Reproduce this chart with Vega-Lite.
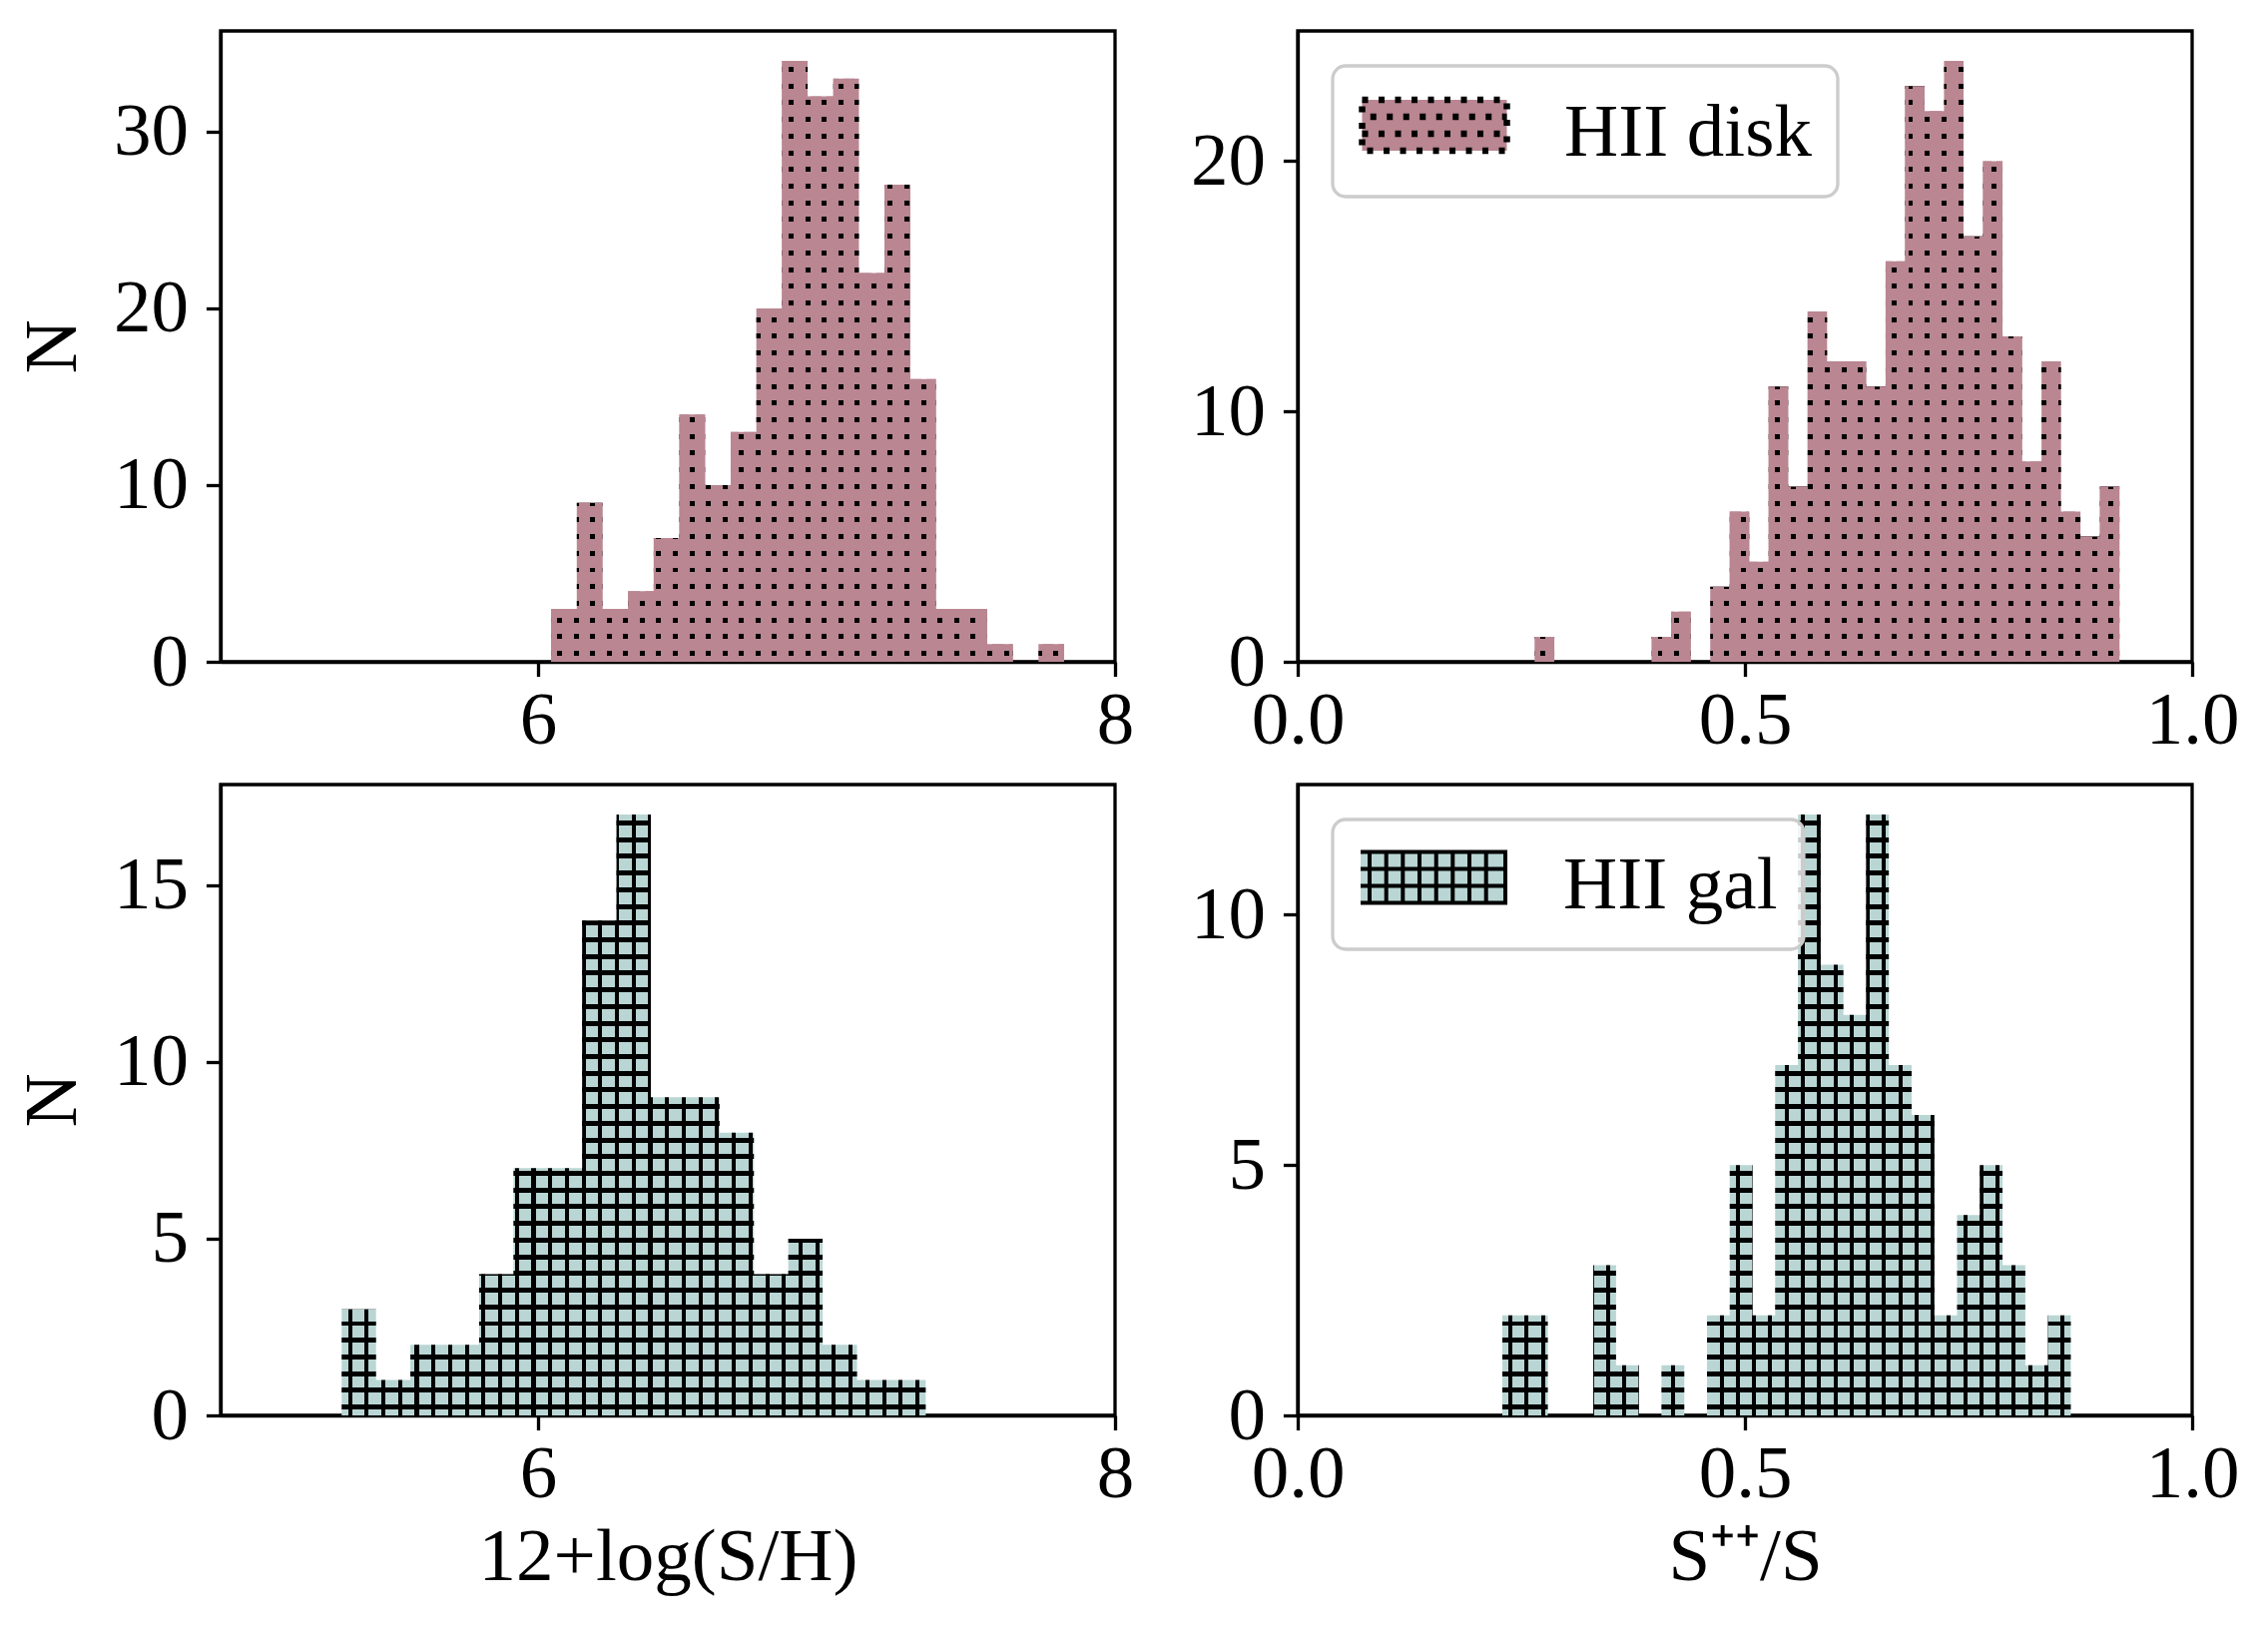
{
"$schema": "https://vega.github.io/schema/vega-lite/v6.json",
"background": "white",
"padding": {"left": 13, "top": 29, "right": 30, "bottom": 30},
"bounds": "flush",
"columns": 2,
"spacing": {"row": 123, "column": 183},
"resolve": {"scale": {"fill": "independent"}, "legend": {"fill": "independent"}},
"datasets": {
"diskSH": [
{"lo":6.0456,"hi":6.1345,"n":3},{"lo":6.1345,"hi":6.2234,"n":9},{"lo":6.2234,"hi":6.3123,"n":3},{"lo":6.3123,"hi":6.4012,"n":4},{"lo":6.4012,"hi":6.4901,"n":7},{"lo":6.4901,"hi":6.579,"n":14},{"lo":6.579,"hi":6.6679,"n":10},{"lo":6.6679,"hi":6.7568,"n":13},{"lo":6.7568,"hi":6.8457,"n":20},{"lo":6.8457,"hi":6.9346,"n":34},{"lo":6.9346,"hi":7.0235,"n":32},{"lo":7.0235,"hi":7.1124,"n":33},{"lo":7.1124,"hi":7.2013,"n":22},{"lo":7.2013,"hi":7.2902,"n":27},{"lo":7.2902,"hi":7.3791,"n":16},{"lo":7.3791,"hi":7.468,"n":3},{"lo":7.468,"hi":7.5569,"n":3},{"lo":7.5569,"hi":7.6458,"n":1},{"lo":7.6458,"hi":7.7347,"n":0},{"lo":7.7347,"hi":7.8236,"n":1}
],
"diskFr": [
{"lo":0.2651,"hi":0.2869,"n":1},{"lo":0.2869,"hi":0.3087,"n":0},{"lo":0.3087,"hi":0.3305,"n":0},{"lo":0.3305,"hi":0.3522,"n":0},{"lo":0.3522,"hi":0.374,"n":0},{"lo":0.374,"hi":0.3958,"n":0},{"lo":0.3958,"hi":0.4176,"n":1},{"lo":0.4176,"hi":0.4394,"n":2},{"lo":0.4394,"hi":0.4612,"n":0},{"lo":0.4612,"hi":0.483,"n":3},{"lo":0.483,"hi":0.5048,"n":6},{"lo":0.5048,"hi":0.5265,"n":4},{"lo":0.5265,"hi":0.5483,"n":11},{"lo":0.5483,"hi":0.5701,"n":7},{"lo":0.5701,"hi":0.5919,"n":14},{"lo":0.5919,"hi":0.6137,"n":12},{"lo":0.6137,"hi":0.6355,"n":12},{"lo":0.6355,"hi":0.6573,"n":11},{"lo":0.6573,"hi":0.6791,"n":16},{"lo":0.6791,"hi":0.7008,"n":23},{"lo":0.7008,"hi":0.7226,"n":22},{"lo":0.7226,"hi":0.7444,"n":24},{"lo":0.7444,"hi":0.7662,"n":17},{"lo":0.7662,"hi":0.788,"n":20},{"lo":0.788,"hi":0.8098,"n":13},{"lo":0.8098,"hi":0.8316,"n":8},{"lo":0.8316,"hi":0.8534,"n":12},{"lo":0.8534,"hi":0.8751,"n":6},{"lo":0.8751,"hi":0.8969,"n":5},{"lo":0.8969,"hi":0.9187,"n":7}
],
"galSH": [
{"lo":5.3196,"hi":5.4387,"n":3},{"lo":5.4387,"hi":5.5577,"n":1},{"lo":5.5577,"hi":5.6768,"n":2},{"lo":5.6768,"hi":5.7959,"n":2},{"lo":5.7959,"hi":5.915,"n":4},{"lo":5.915,"hi":6.034,"n":7},{"lo":6.034,"hi":6.1531,"n":7},{"lo":6.1531,"hi":6.2722,"n":14},{"lo":6.2722,"hi":6.3912,"n":17},{"lo":6.3912,"hi":6.5103,"n":9},{"lo":6.5103,"hi":6.6294,"n":9},{"lo":6.6294,"hi":6.7484,"n":8},{"lo":6.7484,"hi":6.8675,"n":4},{"lo":6.8675,"hi":6.9866,"n":5},{"lo":6.9866,"hi":7.1057,"n":2},{"lo":7.1057,"hi":7.2247,"n":1},{"lo":7.2247,"hi":7.3438,"n":1}
],
"galFr": [
{"lo":0.2288,"hi":0.2542,"n":2},{"lo":0.2542,"hi":0.2796,"n":2},{"lo":0.2796,"hi":0.3051,"n":0},{"lo":0.3051,"hi":0.3305,"n":0},{"lo":0.3305,"hi":0.3559,"n":3},{"lo":0.3559,"hi":0.3813,"n":1},{"lo":0.3813,"hi":0.4067,"n":0},{"lo":0.4067,"hi":0.4322,"n":1},{"lo":0.4322,"hi":0.4576,"n":0},{"lo":0.4576,"hi":0.483,"n":2},{"lo":0.483,"hi":0.5084,"n":5},{"lo":0.5084,"hi":0.5338,"n":2},{"lo":0.5338,"hi":0.5593,"n":7},{"lo":0.5593,"hi":0.5847,"n":12},{"lo":0.5847,"hi":0.6101,"n":9},{"lo":0.6101,"hi":0.6355,"n":8},{"lo":0.6355,"hi":0.6609,"n":12},{"lo":0.6609,"hi":0.6864,"n":7},{"lo":0.6864,"hi":0.7118,"n":6},{"lo":0.7118,"hi":0.7372,"n":2},{"lo":0.7372,"hi":0.7626,"n":4},{"lo":0.7626,"hi":0.788,"n":5},{"lo":0.788,"hi":0.8135,"n":3},{"lo":0.8135,"hi":0.8389,"n":1},{"lo":0.8389,"hi":0.8643,"n":2}
]
},
"config": {
"font": "Liberation Serif",
"view": {"stroke": "black", "strokeWidth": 3.3},
"axis": {"grid": false, "zindex": 1, "domainColor": "black", "domainWidth": 3.3, "tickColor": "black", "tickWidth": 3.3, "tickSize": 14.6, "labelFont": "Liberation Serif", "labelFontSize": 75, "labelColor": "black", "labelFlush": false, "labelOverlap": false, "labelBound": false, "titleFont": "Liberation Serif", "titleFontSize": 75, "titleFontWeight": "normal", "titleColor": "black"},
"axisX": {"labelPadding": 8, "titlePadding": 9},
"axisY": {"labelPadding": 18, "titlePadding": 22},
"legend": {"labelFont": "Liberation Serif", "labelFontSize": 75, "labelColor": "black", "labelOffset": 124, "padding": 26, "fillColor": "rgba(255,255,255,0.8)", "strokeColor": "#cccccc", "strokeWidth": 3.3, "cornerRadius": 13, "labelLimit": 1000, "orient": "top-left", "offset": 35}
},
"concat": [
{
"width": 896, "height": 632,
"data": {"name": "diskSH"},
"transform": [{"fold": ["lo", "hi"], "as": ["edge", "x"]}],
"encoding": {
"x": {"field": "x", "type": "quantitative", "scale": {"domain": [4.9, 8], "nice": false, "zero": false}, "axis": {"values": [6, 8], "title": null}},
"y": {"field": "n", "type": "quantitative", "stack": null, "scale": {"domain": [0, 35.7], "nice": false}, "axis": {"values": [0, 10, 20, 30], "title": "N"}},
"order": [{"field": "x", "type": "quantitative"}, {"field": "edge", "type": "nominal"}]
},
"layer": [
{"mark": {"type": "area", "fill": "#b98692", "opacity": 1}},
{"mark": {"type": "area", "opacity": 1, "fill": {"gradient": "linear", "x1": 0, "y1": 0, "x2": 0, "y2": 1, "stops": [
{"offset":0.0097,"color":"transparent"},{"offset":0.0097,"color":"#000"},{"offset":0.0180,"color":"#000"},{"offset":0.0180,"color":"transparent"},
{"offset":0.0375,"color":"transparent"},{"offset":0.0375,"color":"#000"},{"offset":0.0458,"color":"#000"},{"offset":0.0458,"color":"transparent"},
{"offset":0.0653,"color":"transparent"},{"offset":0.0653,"color":"#000"},{"offset":0.0736,"color":"#000"},{"offset":0.0736,"color":"transparent"},
{"offset":0.0930,"color":"transparent"},{"offset":0.0930,"color":"#000"},{"offset":0.1013,"color":"#000"},{"offset":0.1013,"color":"transparent"},
{"offset":0.1208,"color":"transparent"},{"offset":0.1208,"color":"#000"},{"offset":0.1291,"color":"#000"},{"offset":0.1291,"color":"transparent"},
{"offset":0.1486,"color":"transparent"},{"offset":0.1486,"color":"#000"},{"offset":0.1569,"color":"#000"},{"offset":0.1569,"color":"transparent"},
{"offset":0.1764,"color":"transparent"},{"offset":0.1764,"color":"#000"},{"offset":0.1847,"color":"#000"},{"offset":0.1847,"color":"transparent"},
{"offset":0.2041,"color":"transparent"},{"offset":0.2041,"color":"#000"},{"offset":0.2124,"color":"#000"},{"offset":0.2124,"color":"transparent"},
{"offset":0.2319,"color":"transparent"},{"offset":0.2319,"color":"#000"},{"offset":0.2402,"color":"#000"},{"offset":0.2402,"color":"transparent"},
{"offset":0.2597,"color":"transparent"},{"offset":0.2597,"color":"#000"},{"offset":0.2680,"color":"#000"},{"offset":0.2680,"color":"transparent"},
{"offset":0.2875,"color":"transparent"},{"offset":0.2875,"color":"#000"},{"offset":0.2958,"color":"#000"},{"offset":0.2958,"color":"transparent"},
{"offset":0.3153,"color":"transparent"},{"offset":0.3153,"color":"#000"},{"offset":0.3236,"color":"#000"},{"offset":0.3236,"color":"transparent"},
{"offset":0.3430,"color":"transparent"},{"offset":0.3430,"color":"#000"},{"offset":0.3513,"color":"#000"},{"offset":0.3513,"color":"transparent"},
{"offset":0.3708,"color":"transparent"},{"offset":0.3708,"color":"#000"},{"offset":0.3791,"color":"#000"},{"offset":0.3791,"color":"transparent"},
{"offset":0.3986,"color":"transparent"},{"offset":0.3986,"color":"#000"},{"offset":0.4069,"color":"#000"},{"offset":0.4069,"color":"transparent"},
{"offset":0.4264,"color":"transparent"},{"offset":0.4264,"color":"#000"},{"offset":0.4347,"color":"#000"},{"offset":0.4347,"color":"transparent"},
{"offset":0.4541,"color":"transparent"},{"offset":0.4541,"color":"#000"},{"offset":0.4624,"color":"#000"},{"offset":0.4624,"color":"transparent"},
{"offset":0.4819,"color":"transparent"},{"offset":0.4819,"color":"#000"},{"offset":0.4902,"color":"#000"},{"offset":0.4902,"color":"transparent"},
{"offset":0.5097,"color":"transparent"},{"offset":0.5097,"color":"#000"},{"offset":0.5180,"color":"#000"},{"offset":0.5180,"color":"transparent"},
{"offset":0.5375,"color":"transparent"},{"offset":0.5375,"color":"#000"},{"offset":0.5458,"color":"#000"},{"offset":0.5458,"color":"transparent"},
{"offset":0.5653,"color":"transparent"},{"offset":0.5653,"color":"#000"},{"offset":0.5736,"color":"#000"},{"offset":0.5736,"color":"transparent"},
{"offset":0.5930,"color":"transparent"},{"offset":0.5930,"color":"#000"},{"offset":0.6013,"color":"#000"},{"offset":0.6013,"color":"transparent"},
{"offset":0.6208,"color":"transparent"},{"offset":0.6208,"color":"#000"},{"offset":0.6291,"color":"#000"},{"offset":0.6291,"color":"transparent"},
{"offset":0.6486,"color":"transparent"},{"offset":0.6486,"color":"#000"},{"offset":0.6569,"color":"#000"},{"offset":0.6569,"color":"transparent"},
{"offset":0.6764,"color":"transparent"},{"offset":0.6764,"color":"#000"},{"offset":0.6847,"color":"#000"},{"offset":0.6847,"color":"transparent"},
{"offset":0.7041,"color":"transparent"},{"offset":0.7041,"color":"#000"},{"offset":0.7124,"color":"#000"},{"offset":0.7124,"color":"transparent"},
{"offset":0.7319,"color":"transparent"},{"offset":0.7319,"color":"#000"},{"offset":0.7402,"color":"#000"},{"offset":0.7402,"color":"transparent"},
{"offset":0.7597,"color":"transparent"},{"offset":0.7597,"color":"#000"},{"offset":0.7680,"color":"#000"},{"offset":0.7680,"color":"transparent"},
{"offset":0.7875,"color":"transparent"},{"offset":0.7875,"color":"#000"},{"offset":0.7958,"color":"#000"},{"offset":0.7958,"color":"transparent"},
{"offset":0.8153,"color":"transparent"},{"offset":0.8153,"color":"#000"},{"offset":0.8236,"color":"#000"},{"offset":0.8236,"color":"transparent"},
{"offset":0.8430,"color":"transparent"},{"offset":0.8430,"color":"#000"},{"offset":0.8513,"color":"#000"},{"offset":0.8513,"color":"transparent"},
{"offset":0.8708,"color":"transparent"},{"offset":0.8708,"color":"#000"},{"offset":0.8791,"color":"#000"},{"offset":0.8791,"color":"transparent"},
{"offset":0.8986,"color":"transparent"},{"offset":0.8986,"color":"#000"},{"offset":0.9069,"color":"#000"},{"offset":0.9069,"color":"transparent"},
{"offset":0.9264,"color":"transparent"},{"offset":0.9264,"color":"#000"},{"offset":0.9347,"color":"#000"},{"offset":0.9347,"color":"transparent"},
{"offset":0.9541,"color":"transparent"},{"offset":0.9541,"color":"#000"},{"offset":0.9624,"color":"#000"},{"offset":0.9624,"color":"transparent"},
{"offset":0.9819,"color":"transparent"},{"offset":0.9819,"color":"#000"},{"offset":0.9902,"color":"#000"},{"offset":0.9902,"color":"transparent"}
]}}},
{"mark": {"type": "area", "opacity": 1, "fill": {"gradient": "linear", "x1": 0, "y1": 0, "x2": 1, "y2": 0, "stops": [
{"offset":0.0113,"color":"#b98692"},{"offset":0.0113,"color":"transparent"},{"offset":0.0210,"color":"transparent"},{"offset":0.0210,"color":"#b98692"},
{"offset":0.0436,"color":"#b98692"},{"offset":0.0436,"color":"transparent"},{"offset":0.0533,"color":"transparent"},{"offset":0.0533,"color":"#b98692"},
{"offset":0.0758,"color":"#b98692"},{"offset":0.0758,"color":"transparent"},{"offset":0.0855,"color":"transparent"},{"offset":0.0855,"color":"#b98692"},
{"offset":0.1081,"color":"#b98692"},{"offset":0.1081,"color":"transparent"},{"offset":0.1178,"color":"transparent"},{"offset":0.1178,"color":"#b98692"},
{"offset":0.1403,"color":"#b98692"},{"offset":0.1403,"color":"transparent"},{"offset":0.1500,"color":"transparent"},{"offset":0.1500,"color":"#b98692"},
{"offset":0.1726,"color":"#b98692"},{"offset":0.1726,"color":"transparent"},{"offset":0.1823,"color":"transparent"},{"offset":0.1823,"color":"#b98692"},
{"offset":0.2049,"color":"#b98692"},{"offset":0.2049,"color":"transparent"},{"offset":0.2146,"color":"transparent"},{"offset":0.2146,"color":"#b98692"},
{"offset":0.2371,"color":"#b98692"},{"offset":0.2371,"color":"transparent"},{"offset":0.2468,"color":"transparent"},{"offset":0.2468,"color":"#b98692"},
{"offset":0.2694,"color":"#b98692"},{"offset":0.2694,"color":"transparent"},{"offset":0.2791,"color":"transparent"},{"offset":0.2791,"color":"#b98692"},
{"offset":0.3016,"color":"#b98692"},{"offset":0.3016,"color":"transparent"},{"offset":0.3113,"color":"transparent"},{"offset":0.3113,"color":"#b98692"},
{"offset":0.3339,"color":"#b98692"},{"offset":0.3339,"color":"transparent"},{"offset":0.3436,"color":"transparent"},{"offset":0.3436,"color":"#b98692"},
{"offset":0.3661,"color":"#b98692"},{"offset":0.3661,"color":"transparent"},{"offset":0.3758,"color":"transparent"},{"offset":0.3758,"color":"#b98692"},
{"offset":0.3984,"color":"#b98692"},{"offset":0.3984,"color":"transparent"},{"offset":0.4081,"color":"transparent"},{"offset":0.4081,"color":"#b98692"},
{"offset":0.4307,"color":"#b98692"},{"offset":0.4307,"color":"transparent"},{"offset":0.4404,"color":"transparent"},{"offset":0.4404,"color":"#b98692"},
{"offset":0.4629,"color":"#b98692"},{"offset":0.4629,"color":"transparent"},{"offset":0.4726,"color":"transparent"},{"offset":0.4726,"color":"#b98692"},
{"offset":0.4952,"color":"#b98692"},{"offset":0.4952,"color":"transparent"},{"offset":0.5049,"color":"transparent"},{"offset":0.5049,"color":"#b98692"},
{"offset":0.5274,"color":"#b98692"},{"offset":0.5274,"color":"transparent"},{"offset":0.5371,"color":"transparent"},{"offset":0.5371,"color":"#b98692"},
{"offset":0.5597,"color":"#b98692"},{"offset":0.5597,"color":"transparent"},{"offset":0.5694,"color":"transparent"},{"offset":0.5694,"color":"#b98692"},
{"offset":0.5920,"color":"#b98692"},{"offset":0.5920,"color":"transparent"},{"offset":0.6017,"color":"transparent"},{"offset":0.6017,"color":"#b98692"},
{"offset":0.6242,"color":"#b98692"},{"offset":0.6242,"color":"transparent"},{"offset":0.6339,"color":"transparent"},{"offset":0.6339,"color":"#b98692"},
{"offset":0.6565,"color":"#b98692"},{"offset":0.6565,"color":"transparent"},{"offset":0.6662,"color":"transparent"},{"offset":0.6662,"color":"#b98692"},
{"offset":0.6887,"color":"#b98692"},{"offset":0.6887,"color":"transparent"},{"offset":0.6984,"color":"transparent"},{"offset":0.6984,"color":"#b98692"},
{"offset":0.7210,"color":"#b98692"},{"offset":0.7210,"color":"transparent"},{"offset":0.7307,"color":"transparent"},{"offset":0.7307,"color":"#b98692"},
{"offset":0.7532,"color":"#b98692"},{"offset":0.7532,"color":"transparent"},{"offset":0.7629,"color":"transparent"},{"offset":0.7629,"color":"#b98692"},
{"offset":0.7855,"color":"#b98692"},{"offset":0.7855,"color":"transparent"},{"offset":0.7952,"color":"transparent"},{"offset":0.7952,"color":"#b98692"},
{"offset":0.8178,"color":"#b98692"},{"offset":0.8178,"color":"transparent"},{"offset":0.8275,"color":"transparent"},{"offset":0.8275,"color":"#b98692"},
{"offset":0.8500,"color":"#b98692"},{"offset":0.8500,"color":"transparent"},{"offset":0.8597,"color":"transparent"},{"offset":0.8597,"color":"#b98692"},
{"offset":0.8823,"color":"#b98692"},{"offset":0.8823,"color":"transparent"},{"offset":0.8920,"color":"transparent"},{"offset":0.8920,"color":"#b98692"},
{"offset":0.9145,"color":"#b98692"},{"offset":0.9145,"color":"transparent"},{"offset":0.9242,"color":"transparent"},{"offset":0.9242,"color":"#b98692"},
{"offset":0.9468,"color":"#b98692"},{"offset":0.9468,"color":"transparent"},{"offset":0.9565,"color":"transparent"},{"offset":0.9565,"color":"#b98692"},
{"offset":0.9790,"color":"#b98692"},{"offset":0.9790,"color":"transparent"},{"offset":0.9887,"color":"transparent"},{"offset":0.9887,"color":"#b98692"}
]}}}
]
},
{
"width": 896, "height": 632,
"data": {"name": "diskFr"},
"transform": [{"fold": ["lo", "hi"], "as": ["edge", "x"]}],
"encoding": {
"x": {"field": "x", "type": "quantitative", "scale": {"domain": [0, 1], "nice": false, "zero": false}, "axis": {"values": [0, 0.5, 1], "format": ".1f", "title": null}},
"y": {"field": "n", "type": "quantitative", "stack": null, "scale": {"domain": [0, 25.2], "nice": false}, "axis": {"values": [0, 10, 20], "title": null}},
"order": [{"field": "x", "type": "quantitative"}, {"field": "edge", "type": "nominal"}]
},
"layer": [
{"mark": {"type": "area", "opacity": 1},
 "encoding": {"fill": {"datum": "HII disk", "type": "nominal", "scale": {"range": ["#b98692"]},
  "legend": {"title": null, "symbolType": "M-1,-0.88H2.867V0.48H-1Z M-0.78,-0.427H2.867 M-1,0.027H2.867", "symbolSize": 5625,
   "symbolStrokeColor": "black", "symbolStrokeWidth": 6.5, "symbolDash": [6, 10.5], "symbolOpacity": 1}}}},
{"mark": {"type": "area", "opacity": 1, "fill": {"gradient": "linear", "x1": 0, "y1": 0, "x2": 0, "y2": 1, "stops": [
{"offset":0.0097,"color":"transparent"},{"offset":0.0097,"color":"#000"},{"offset":0.0180,"color":"#000"},{"offset":0.0180,"color":"transparent"},
{"offset":0.0375,"color":"transparent"},{"offset":0.0375,"color":"#000"},{"offset":0.0458,"color":"#000"},{"offset":0.0458,"color":"transparent"},
{"offset":0.0653,"color":"transparent"},{"offset":0.0653,"color":"#000"},{"offset":0.0736,"color":"#000"},{"offset":0.0736,"color":"transparent"},
{"offset":0.0930,"color":"transparent"},{"offset":0.0930,"color":"#000"},{"offset":0.1013,"color":"#000"},{"offset":0.1013,"color":"transparent"},
{"offset":0.1208,"color":"transparent"},{"offset":0.1208,"color":"#000"},{"offset":0.1291,"color":"#000"},{"offset":0.1291,"color":"transparent"},
{"offset":0.1486,"color":"transparent"},{"offset":0.1486,"color":"#000"},{"offset":0.1569,"color":"#000"},{"offset":0.1569,"color":"transparent"},
{"offset":0.1764,"color":"transparent"},{"offset":0.1764,"color":"#000"},{"offset":0.1847,"color":"#000"},{"offset":0.1847,"color":"transparent"},
{"offset":0.2041,"color":"transparent"},{"offset":0.2041,"color":"#000"},{"offset":0.2124,"color":"#000"},{"offset":0.2124,"color":"transparent"},
{"offset":0.2319,"color":"transparent"},{"offset":0.2319,"color":"#000"},{"offset":0.2402,"color":"#000"},{"offset":0.2402,"color":"transparent"},
{"offset":0.2597,"color":"transparent"},{"offset":0.2597,"color":"#000"},{"offset":0.2680,"color":"#000"},{"offset":0.2680,"color":"transparent"},
{"offset":0.2875,"color":"transparent"},{"offset":0.2875,"color":"#000"},{"offset":0.2958,"color":"#000"},{"offset":0.2958,"color":"transparent"},
{"offset":0.3153,"color":"transparent"},{"offset":0.3153,"color":"#000"},{"offset":0.3236,"color":"#000"},{"offset":0.3236,"color":"transparent"},
{"offset":0.3430,"color":"transparent"},{"offset":0.3430,"color":"#000"},{"offset":0.3513,"color":"#000"},{"offset":0.3513,"color":"transparent"},
{"offset":0.3708,"color":"transparent"},{"offset":0.3708,"color":"#000"},{"offset":0.3791,"color":"#000"},{"offset":0.3791,"color":"transparent"},
{"offset":0.3986,"color":"transparent"},{"offset":0.3986,"color":"#000"},{"offset":0.4069,"color":"#000"},{"offset":0.4069,"color":"transparent"},
{"offset":0.4264,"color":"transparent"},{"offset":0.4264,"color":"#000"},{"offset":0.4347,"color":"#000"},{"offset":0.4347,"color":"transparent"},
{"offset":0.4541,"color":"transparent"},{"offset":0.4541,"color":"#000"},{"offset":0.4624,"color":"#000"},{"offset":0.4624,"color":"transparent"},
{"offset":0.4819,"color":"transparent"},{"offset":0.4819,"color":"#000"},{"offset":0.4902,"color":"#000"},{"offset":0.4902,"color":"transparent"},
{"offset":0.5097,"color":"transparent"},{"offset":0.5097,"color":"#000"},{"offset":0.5180,"color":"#000"},{"offset":0.5180,"color":"transparent"},
{"offset":0.5375,"color":"transparent"},{"offset":0.5375,"color":"#000"},{"offset":0.5458,"color":"#000"},{"offset":0.5458,"color":"transparent"},
{"offset":0.5653,"color":"transparent"},{"offset":0.5653,"color":"#000"},{"offset":0.5736,"color":"#000"},{"offset":0.5736,"color":"transparent"},
{"offset":0.5930,"color":"transparent"},{"offset":0.5930,"color":"#000"},{"offset":0.6013,"color":"#000"},{"offset":0.6013,"color":"transparent"},
{"offset":0.6208,"color":"transparent"},{"offset":0.6208,"color":"#000"},{"offset":0.6291,"color":"#000"},{"offset":0.6291,"color":"transparent"},
{"offset":0.6486,"color":"transparent"},{"offset":0.6486,"color":"#000"},{"offset":0.6569,"color":"#000"},{"offset":0.6569,"color":"transparent"},
{"offset":0.6764,"color":"transparent"},{"offset":0.6764,"color":"#000"},{"offset":0.6847,"color":"#000"},{"offset":0.6847,"color":"transparent"},
{"offset":0.7041,"color":"transparent"},{"offset":0.7041,"color":"#000"},{"offset":0.7124,"color":"#000"},{"offset":0.7124,"color":"transparent"},
{"offset":0.7319,"color":"transparent"},{"offset":0.7319,"color":"#000"},{"offset":0.7402,"color":"#000"},{"offset":0.7402,"color":"transparent"},
{"offset":0.7597,"color":"transparent"},{"offset":0.7597,"color":"#000"},{"offset":0.7680,"color":"#000"},{"offset":0.7680,"color":"transparent"},
{"offset":0.7875,"color":"transparent"},{"offset":0.7875,"color":"#000"},{"offset":0.7958,"color":"#000"},{"offset":0.7958,"color":"transparent"},
{"offset":0.8153,"color":"transparent"},{"offset":0.8153,"color":"#000"},{"offset":0.8236,"color":"#000"},{"offset":0.8236,"color":"transparent"},
{"offset":0.8430,"color":"transparent"},{"offset":0.8430,"color":"#000"},{"offset":0.8513,"color":"#000"},{"offset":0.8513,"color":"transparent"},
{"offset":0.8708,"color":"transparent"},{"offset":0.8708,"color":"#000"},{"offset":0.8791,"color":"#000"},{"offset":0.8791,"color":"transparent"},
{"offset":0.8986,"color":"transparent"},{"offset":0.8986,"color":"#000"},{"offset":0.9069,"color":"#000"},{"offset":0.9069,"color":"transparent"},
{"offset":0.9264,"color":"transparent"},{"offset":0.9264,"color":"#000"},{"offset":0.9347,"color":"#000"},{"offset":0.9347,"color":"transparent"},
{"offset":0.9541,"color":"transparent"},{"offset":0.9541,"color":"#000"},{"offset":0.9624,"color":"#000"},{"offset":0.9624,"color":"transparent"},
{"offset":0.9819,"color":"transparent"},{"offset":0.9819,"color":"#000"},{"offset":0.9902,"color":"#000"},{"offset":0.9902,"color":"transparent"}
]}}},
{"mark": {"type": "area", "opacity": 1, "fill": {"gradient": "linear", "x1": 0, "y1": 0, "x2": 1, "y2": 0, "stops": [
{"offset":0.0100,"color":"#b98692"},{"offset":0.0100,"color":"transparent"},{"offset":0.0185,"color":"transparent"},{"offset":0.0185,"color":"#b98692"},
{"offset":0.0386,"color":"#b98692"},{"offset":0.0386,"color":"transparent"},{"offset":0.0471,"color":"transparent"},{"offset":0.0471,"color":"#b98692"},
{"offset":0.0671,"color":"#b98692"},{"offset":0.0671,"color":"transparent"},{"offset":0.0756,"color":"transparent"},{"offset":0.0756,"color":"#b98692"},
{"offset":0.0957,"color":"#b98692"},{"offset":0.0957,"color":"transparent"},{"offset":0.1042,"color":"transparent"},{"offset":0.1042,"color":"#b98692"},
{"offset":0.1243,"color":"#b98692"},{"offset":0.1243,"color":"transparent"},{"offset":0.1328,"color":"transparent"},{"offset":0.1328,"color":"#b98692"},
{"offset":0.1529,"color":"#b98692"},{"offset":0.1529,"color":"transparent"},{"offset":0.1614,"color":"transparent"},{"offset":0.1614,"color":"#b98692"},
{"offset":0.1814,"color":"#b98692"},{"offset":0.1814,"color":"transparent"},{"offset":0.1899,"color":"transparent"},{"offset":0.1899,"color":"#b98692"},
{"offset":0.2100,"color":"#b98692"},{"offset":0.2100,"color":"transparent"},{"offset":0.2185,"color":"transparent"},{"offset":0.2185,"color":"#b98692"},
{"offset":0.2386,"color":"#b98692"},{"offset":0.2386,"color":"transparent"},{"offset":0.2471,"color":"transparent"},{"offset":0.2471,"color":"#b98692"},
{"offset":0.2671,"color":"#b98692"},{"offset":0.2671,"color":"transparent"},{"offset":0.2756,"color":"transparent"},{"offset":0.2756,"color":"#b98692"},
{"offset":0.2957,"color":"#b98692"},{"offset":0.2957,"color":"transparent"},{"offset":0.3042,"color":"transparent"},{"offset":0.3042,"color":"#b98692"},
{"offset":0.3243,"color":"#b98692"},{"offset":0.3243,"color":"transparent"},{"offset":0.3328,"color":"transparent"},{"offset":0.3328,"color":"#b98692"},
{"offset":0.3529,"color":"#b98692"},{"offset":0.3529,"color":"transparent"},{"offset":0.3614,"color":"transparent"},{"offset":0.3614,"color":"#b98692"},
{"offset":0.3814,"color":"#b98692"},{"offset":0.3814,"color":"transparent"},{"offset":0.3899,"color":"transparent"},{"offset":0.3899,"color":"#b98692"},
{"offset":0.4100,"color":"#b98692"},{"offset":0.4100,"color":"transparent"},{"offset":0.4185,"color":"transparent"},{"offset":0.4185,"color":"#b98692"},
{"offset":0.4386,"color":"#b98692"},{"offset":0.4386,"color":"transparent"},{"offset":0.4471,"color":"transparent"},{"offset":0.4471,"color":"#b98692"},
{"offset":0.4671,"color":"#b98692"},{"offset":0.4671,"color":"transparent"},{"offset":0.4756,"color":"transparent"},{"offset":0.4756,"color":"#b98692"},
{"offset":0.4957,"color":"#b98692"},{"offset":0.4957,"color":"transparent"},{"offset":0.5042,"color":"transparent"},{"offset":0.5042,"color":"#b98692"},
{"offset":0.5243,"color":"#b98692"},{"offset":0.5243,"color":"transparent"},{"offset":0.5328,"color":"transparent"},{"offset":0.5328,"color":"#b98692"},
{"offset":0.5529,"color":"#b98692"},{"offset":0.5529,"color":"transparent"},{"offset":0.5614,"color":"transparent"},{"offset":0.5614,"color":"#b98692"},
{"offset":0.5814,"color":"#b98692"},{"offset":0.5814,"color":"transparent"},{"offset":0.5899,"color":"transparent"},{"offset":0.5899,"color":"#b98692"},
{"offset":0.6100,"color":"#b98692"},{"offset":0.6100,"color":"transparent"},{"offset":0.6185,"color":"transparent"},{"offset":0.6185,"color":"#b98692"},
{"offset":0.6386,"color":"#b98692"},{"offset":0.6386,"color":"transparent"},{"offset":0.6471,"color":"transparent"},{"offset":0.6471,"color":"#b98692"},
{"offset":0.6671,"color":"#b98692"},{"offset":0.6671,"color":"transparent"},{"offset":0.6756,"color":"transparent"},{"offset":0.6756,"color":"#b98692"},
{"offset":0.6957,"color":"#b98692"},{"offset":0.6957,"color":"transparent"},{"offset":0.7042,"color":"transparent"},{"offset":0.7042,"color":"#b98692"},
{"offset":0.7243,"color":"#b98692"},{"offset":0.7243,"color":"transparent"},{"offset":0.7328,"color":"transparent"},{"offset":0.7328,"color":"#b98692"},
{"offset":0.7529,"color":"#b98692"},{"offset":0.7529,"color":"transparent"},{"offset":0.7614,"color":"transparent"},{"offset":0.7614,"color":"#b98692"},
{"offset":0.7814,"color":"#b98692"},{"offset":0.7814,"color":"transparent"},{"offset":0.7899,"color":"transparent"},{"offset":0.7899,"color":"#b98692"},
{"offset":0.8100,"color":"#b98692"},{"offset":0.8100,"color":"transparent"},{"offset":0.8185,"color":"transparent"},{"offset":0.8185,"color":"#b98692"},
{"offset":0.8386,"color":"#b98692"},{"offset":0.8386,"color":"transparent"},{"offset":0.8471,"color":"transparent"},{"offset":0.8471,"color":"#b98692"},
{"offset":0.8671,"color":"#b98692"},{"offset":0.8671,"color":"transparent"},{"offset":0.8756,"color":"transparent"},{"offset":0.8756,"color":"#b98692"},
{"offset":0.8957,"color":"#b98692"},{"offset":0.8957,"color":"transparent"},{"offset":0.9042,"color":"transparent"},{"offset":0.9042,"color":"#b98692"},
{"offset":0.9243,"color":"#b98692"},{"offset":0.9243,"color":"transparent"},{"offset":0.9328,"color":"transparent"},{"offset":0.9328,"color":"#b98692"},
{"offset":0.9529,"color":"#b98692"},{"offset":0.9529,"color":"transparent"},{"offset":0.9614,"color":"transparent"},{"offset":0.9614,"color":"#b98692"},
{"offset":0.9814,"color":"#b98692"},{"offset":0.9814,"color":"transparent"},{"offset":0.9899,"color":"transparent"},{"offset":0.9899,"color":"#b98692"}
]}}}
]
},
{
"width": 896, "height": 632,
"data": {"name": "galSH"},
"transform": [{"fold": ["lo", "hi"], "as": ["edge", "x"]}],
"encoding": {
"x": {"field": "x", "type": "quantitative", "scale": {"domain": [4.9, 8], "nice": false, "zero": false}, "axis": {"values": [6, 8], "title": "12+log(S/H)"}},
"y": {"field": "n", "type": "quantitative", "stack": null, "scale": {"domain": [0, 17.85], "nice": false}, "axis": {"values": [0, 5, 10, 15], "title": "N"}},
"order": [{"field": "x", "type": "quantitative"}, {"field": "edge", "type": "nominal"}]
},
"layer": [
{"mark": {"type": "area", "fill": "#b9d6d4", "opacity": 1}},
{"mark": {"type": "area", "opacity": 1, "fill": {"gradient": "linear", "x1": 0, "y1": 0, "x2": 0, "y2": 1, "stops": [
{"offset":0.0097,"color":"transparent"},{"offset":0.0097,"color":"#000"},{"offset":0.0180,"color":"#000"},{"offset":0.0180,"color":"transparent"},
{"offset":0.0375,"color":"transparent"},{"offset":0.0375,"color":"#000"},{"offset":0.0458,"color":"#000"},{"offset":0.0458,"color":"transparent"},
{"offset":0.0653,"color":"transparent"},{"offset":0.0653,"color":"#000"},{"offset":0.0736,"color":"#000"},{"offset":0.0736,"color":"transparent"},
{"offset":0.0930,"color":"transparent"},{"offset":0.0930,"color":"#000"},{"offset":0.1013,"color":"#000"},{"offset":0.1013,"color":"transparent"},
{"offset":0.1208,"color":"transparent"},{"offset":0.1208,"color":"#000"},{"offset":0.1291,"color":"#000"},{"offset":0.1291,"color":"transparent"},
{"offset":0.1486,"color":"transparent"},{"offset":0.1486,"color":"#000"},{"offset":0.1569,"color":"#000"},{"offset":0.1569,"color":"transparent"},
{"offset":0.1764,"color":"transparent"},{"offset":0.1764,"color":"#000"},{"offset":0.1847,"color":"#000"},{"offset":0.1847,"color":"transparent"},
{"offset":0.2041,"color":"transparent"},{"offset":0.2041,"color":"#000"},{"offset":0.2124,"color":"#000"},{"offset":0.2124,"color":"transparent"},
{"offset":0.2319,"color":"transparent"},{"offset":0.2319,"color":"#000"},{"offset":0.2402,"color":"#000"},{"offset":0.2402,"color":"transparent"},
{"offset":0.2597,"color":"transparent"},{"offset":0.2597,"color":"#000"},{"offset":0.2680,"color":"#000"},{"offset":0.2680,"color":"transparent"},
{"offset":0.2875,"color":"transparent"},{"offset":0.2875,"color":"#000"},{"offset":0.2958,"color":"#000"},{"offset":0.2958,"color":"transparent"},
{"offset":0.3153,"color":"transparent"},{"offset":0.3153,"color":"#000"},{"offset":0.3236,"color":"#000"},{"offset":0.3236,"color":"transparent"},
{"offset":0.3430,"color":"transparent"},{"offset":0.3430,"color":"#000"},{"offset":0.3513,"color":"#000"},{"offset":0.3513,"color":"transparent"},
{"offset":0.3708,"color":"transparent"},{"offset":0.3708,"color":"#000"},{"offset":0.3791,"color":"#000"},{"offset":0.3791,"color":"transparent"},
{"offset":0.3986,"color":"transparent"},{"offset":0.3986,"color":"#000"},{"offset":0.4069,"color":"#000"},{"offset":0.4069,"color":"transparent"},
{"offset":0.4264,"color":"transparent"},{"offset":0.4264,"color":"#000"},{"offset":0.4347,"color":"#000"},{"offset":0.4347,"color":"transparent"},
{"offset":0.4541,"color":"transparent"},{"offset":0.4541,"color":"#000"},{"offset":0.4624,"color":"#000"},{"offset":0.4624,"color":"transparent"},
{"offset":0.4819,"color":"transparent"},{"offset":0.4819,"color":"#000"},{"offset":0.4902,"color":"#000"},{"offset":0.4902,"color":"transparent"},
{"offset":0.5097,"color":"transparent"},{"offset":0.5097,"color":"#000"},{"offset":0.5180,"color":"#000"},{"offset":0.5180,"color":"transparent"},
{"offset":0.5375,"color":"transparent"},{"offset":0.5375,"color":"#000"},{"offset":0.5458,"color":"#000"},{"offset":0.5458,"color":"transparent"},
{"offset":0.5653,"color":"transparent"},{"offset":0.5653,"color":"#000"},{"offset":0.5736,"color":"#000"},{"offset":0.5736,"color":"transparent"},
{"offset":0.5930,"color":"transparent"},{"offset":0.5930,"color":"#000"},{"offset":0.6013,"color":"#000"},{"offset":0.6013,"color":"transparent"},
{"offset":0.6208,"color":"transparent"},{"offset":0.6208,"color":"#000"},{"offset":0.6291,"color":"#000"},{"offset":0.6291,"color":"transparent"},
{"offset":0.6486,"color":"transparent"},{"offset":0.6486,"color":"#000"},{"offset":0.6569,"color":"#000"},{"offset":0.6569,"color":"transparent"},
{"offset":0.6764,"color":"transparent"},{"offset":0.6764,"color":"#000"},{"offset":0.6847,"color":"#000"},{"offset":0.6847,"color":"transparent"},
{"offset":0.7041,"color":"transparent"},{"offset":0.7041,"color":"#000"},{"offset":0.7124,"color":"#000"},{"offset":0.7124,"color":"transparent"},
{"offset":0.7319,"color":"transparent"},{"offset":0.7319,"color":"#000"},{"offset":0.7402,"color":"#000"},{"offset":0.7402,"color":"transparent"},
{"offset":0.7597,"color":"transparent"},{"offset":0.7597,"color":"#000"},{"offset":0.7680,"color":"#000"},{"offset":0.7680,"color":"transparent"},
{"offset":0.7875,"color":"transparent"},{"offset":0.7875,"color":"#000"},{"offset":0.7958,"color":"#000"},{"offset":0.7958,"color":"transparent"},
{"offset":0.8153,"color":"transparent"},{"offset":0.8153,"color":"#000"},{"offset":0.8236,"color":"#000"},{"offset":0.8236,"color":"transparent"},
{"offset":0.8430,"color":"transparent"},{"offset":0.8430,"color":"#000"},{"offset":0.8513,"color":"#000"},{"offset":0.8513,"color":"transparent"},
{"offset":0.8708,"color":"transparent"},{"offset":0.8708,"color":"#000"},{"offset":0.8791,"color":"#000"},{"offset":0.8791,"color":"transparent"},
{"offset":0.8986,"color":"transparent"},{"offset":0.8986,"color":"#000"},{"offset":0.9069,"color":"#000"},{"offset":0.9069,"color":"transparent"},
{"offset":0.9264,"color":"transparent"},{"offset":0.9264,"color":"#000"},{"offset":0.9347,"color":"#000"},{"offset":0.9347,"color":"transparent"},
{"offset":0.9541,"color":"transparent"},{"offset":0.9541,"color":"#000"},{"offset":0.9624,"color":"#000"},{"offset":0.9624,"color":"transparent"},
{"offset":0.9819,"color":"transparent"},{"offset":0.9819,"color":"#000"},{"offset":0.9902,"color":"#000"},{"offset":0.9902,"color":"transparent"}
]}}},
{"mark": {"type": "area", "opacity": 1, "fill": {"gradient": "linear", "x1": 0, "y1": 0, "x2": 1, "y2": 0, "stops": [
{"offset":0.0108,"color":"transparent"},{"offset":0.0108,"color":"#000"},{"offset":0.0178,"color":"#000"},{"offset":0.0178,"color":"transparent"},
{"offset":0.0394,"color":"transparent"},{"offset":0.0394,"color":"#000"},{"offset":0.0464,"color":"#000"},{"offset":0.0464,"color":"transparent"},
{"offset":0.0679,"color":"transparent"},{"offset":0.0679,"color":"#000"},{"offset":0.0749,"color":"#000"},{"offset":0.0749,"color":"transparent"},
{"offset":0.0965,"color":"transparent"},{"offset":0.0965,"color":"#000"},{"offset":0.1035,"color":"#000"},{"offset":0.1035,"color":"transparent"},
{"offset":0.1251,"color":"transparent"},{"offset":0.1251,"color":"#000"},{"offset":0.1321,"color":"#000"},{"offset":0.1321,"color":"transparent"},
{"offset":0.1537,"color":"transparent"},{"offset":0.1537,"color":"#000"},{"offset":0.1607,"color":"#000"},{"offset":0.1607,"color":"transparent"},
{"offset":0.1822,"color":"transparent"},{"offset":0.1822,"color":"#000"},{"offset":0.1892,"color":"#000"},{"offset":0.1892,"color":"transparent"},
{"offset":0.2108,"color":"transparent"},{"offset":0.2108,"color":"#000"},{"offset":0.2178,"color":"#000"},{"offset":0.2178,"color":"transparent"},
{"offset":0.2394,"color":"transparent"},{"offset":0.2394,"color":"#000"},{"offset":0.2464,"color":"#000"},{"offset":0.2464,"color":"transparent"},
{"offset":0.2679,"color":"transparent"},{"offset":0.2679,"color":"#000"},{"offset":0.2749,"color":"#000"},{"offset":0.2749,"color":"transparent"},
{"offset":0.2965,"color":"transparent"},{"offset":0.2965,"color":"#000"},{"offset":0.3035,"color":"#000"},{"offset":0.3035,"color":"transparent"},
{"offset":0.3251,"color":"transparent"},{"offset":0.3251,"color":"#000"},{"offset":0.3321,"color":"#000"},{"offset":0.3321,"color":"transparent"},
{"offset":0.3537,"color":"transparent"},{"offset":0.3537,"color":"#000"},{"offset":0.3607,"color":"#000"},{"offset":0.3607,"color":"transparent"},
{"offset":0.3822,"color":"transparent"},{"offset":0.3822,"color":"#000"},{"offset":0.3892,"color":"#000"},{"offset":0.3892,"color":"transparent"},
{"offset":0.4108,"color":"transparent"},{"offset":0.4108,"color":"#000"},{"offset":0.4178,"color":"#000"},{"offset":0.4178,"color":"transparent"},
{"offset":0.4394,"color":"transparent"},{"offset":0.4394,"color":"#000"},{"offset":0.4464,"color":"#000"},{"offset":0.4464,"color":"transparent"},
{"offset":0.4679,"color":"transparent"},{"offset":0.4679,"color":"#000"},{"offset":0.4749,"color":"#000"},{"offset":0.4749,"color":"transparent"},
{"offset":0.4965,"color":"transparent"},{"offset":0.4965,"color":"#000"},{"offset":0.5035,"color":"#000"},{"offset":0.5035,"color":"transparent"},
{"offset":0.5251,"color":"transparent"},{"offset":0.5251,"color":"#000"},{"offset":0.5321,"color":"#000"},{"offset":0.5321,"color":"transparent"},
{"offset":0.5537,"color":"transparent"},{"offset":0.5537,"color":"#000"},{"offset":0.5607,"color":"#000"},{"offset":0.5607,"color":"transparent"},
{"offset":0.5822,"color":"transparent"},{"offset":0.5822,"color":"#000"},{"offset":0.5892,"color":"#000"},{"offset":0.5892,"color":"transparent"},
{"offset":0.6108,"color":"transparent"},{"offset":0.6108,"color":"#000"},{"offset":0.6178,"color":"#000"},{"offset":0.6178,"color":"transparent"},
{"offset":0.6394,"color":"transparent"},{"offset":0.6394,"color":"#000"},{"offset":0.6464,"color":"#000"},{"offset":0.6464,"color":"transparent"},
{"offset":0.6679,"color":"transparent"},{"offset":0.6679,"color":"#000"},{"offset":0.6749,"color":"#000"},{"offset":0.6749,"color":"transparent"},
{"offset":0.6965,"color":"transparent"},{"offset":0.6965,"color":"#000"},{"offset":0.7035,"color":"#000"},{"offset":0.7035,"color":"transparent"},
{"offset":0.7251,"color":"transparent"},{"offset":0.7251,"color":"#000"},{"offset":0.7321,"color":"#000"},{"offset":0.7321,"color":"transparent"},
{"offset":0.7537,"color":"transparent"},{"offset":0.7537,"color":"#000"},{"offset":0.7607,"color":"#000"},{"offset":0.7607,"color":"transparent"},
{"offset":0.7822,"color":"transparent"},{"offset":0.7822,"color":"#000"},{"offset":0.7892,"color":"#000"},{"offset":0.7892,"color":"transparent"},
{"offset":0.8108,"color":"transparent"},{"offset":0.8108,"color":"#000"},{"offset":0.8178,"color":"#000"},{"offset":0.8178,"color":"transparent"},
{"offset":0.8394,"color":"transparent"},{"offset":0.8394,"color":"#000"},{"offset":0.8464,"color":"#000"},{"offset":0.8464,"color":"transparent"},
{"offset":0.8679,"color":"transparent"},{"offset":0.8679,"color":"#000"},{"offset":0.8749,"color":"#000"},{"offset":0.8749,"color":"transparent"},
{"offset":0.8965,"color":"transparent"},{"offset":0.8965,"color":"#000"},{"offset":0.9035,"color":"#000"},{"offset":0.9035,"color":"transparent"},
{"offset":0.9251,"color":"transparent"},{"offset":0.9251,"color":"#000"},{"offset":0.9321,"color":"#000"},{"offset":0.9321,"color":"transparent"},
{"offset":0.9537,"color":"transparent"},{"offset":0.9537,"color":"#000"},{"offset":0.9607,"color":"#000"},{"offset":0.9607,"color":"transparent"},
{"offset":0.9822,"color":"transparent"},{"offset":0.9822,"color":"#000"},{"offset":0.9892,"color":"#000"},{"offset":0.9892,"color":"transparent"}
]}}}
]
},
{
"width": 896, "height": 632,
"data": {"name": "galFr"},
"transform": [{"fold": ["lo", "hi"], "as": ["edge", "x"]}],
"encoding": {
"x": {"field": "x", "type": "quantitative", "scale": {"domain": [0, 1], "nice": false, "zero": false}, "axis": {"values": [0, 0.5, 1], "format": ".1f", "title": "S⁺⁺/S"}},
"y": {"field": "n", "type": "quantitative", "stack": null, "scale": {"domain": [0, 12.6], "nice": false}, "axis": {"values": [0, 5, 10], "title": null}},
"order": [{"field": "x", "type": "quantitative"}, {"field": "edge", "type": "nominal"}]
},
"layer": [
{"mark": {"type": "area", "opacity": 1},
 "encoding": {"fill": {"datum": "HII gal", "type": "nominal", "scale": {"range": ["#b9d6d4"]},
  "legend": {"title": null, "symbolType": "M-1,-0.88H2.867V0.48H-1 M-1,-0.427H2.867 M-1,0.027H2.867 M-0.76,-0.88V0.48 M-0.315,-0.88V0.48 M0.128,-0.88V0.48 M0.573,-0.88V0.48 M1.019,-0.88V0.48 M1.461,-0.88V0.48 M1.907,-0.88V0.48 M2.352,-0.88V0.48", "symbolSize": 5625,
   "symbolStrokeColor": "black", "symbolStrokeWidth": 4, "symbolOpacity": 1, "labelOffset": 126}}}},
{"mark": {"type": "area", "opacity": 1, "fill": {"gradient": "linear", "x1": 0, "y1": 0, "x2": 0, "y2": 1, "stops": [
{"offset":0.0097,"color":"transparent"},{"offset":0.0097,"color":"#000"},{"offset":0.0180,"color":"#000"},{"offset":0.0180,"color":"transparent"},
{"offset":0.0375,"color":"transparent"},{"offset":0.0375,"color":"#000"},{"offset":0.0458,"color":"#000"},{"offset":0.0458,"color":"transparent"},
{"offset":0.0653,"color":"transparent"},{"offset":0.0653,"color":"#000"},{"offset":0.0736,"color":"#000"},{"offset":0.0736,"color":"transparent"},
{"offset":0.0930,"color":"transparent"},{"offset":0.0930,"color":"#000"},{"offset":0.1013,"color":"#000"},{"offset":0.1013,"color":"transparent"},
{"offset":0.1208,"color":"transparent"},{"offset":0.1208,"color":"#000"},{"offset":0.1291,"color":"#000"},{"offset":0.1291,"color":"transparent"},
{"offset":0.1486,"color":"transparent"},{"offset":0.1486,"color":"#000"},{"offset":0.1569,"color":"#000"},{"offset":0.1569,"color":"transparent"},
{"offset":0.1764,"color":"transparent"},{"offset":0.1764,"color":"#000"},{"offset":0.1847,"color":"#000"},{"offset":0.1847,"color":"transparent"},
{"offset":0.2041,"color":"transparent"},{"offset":0.2041,"color":"#000"},{"offset":0.2124,"color":"#000"},{"offset":0.2124,"color":"transparent"},
{"offset":0.2319,"color":"transparent"},{"offset":0.2319,"color":"#000"},{"offset":0.2402,"color":"#000"},{"offset":0.2402,"color":"transparent"},
{"offset":0.2597,"color":"transparent"},{"offset":0.2597,"color":"#000"},{"offset":0.2680,"color":"#000"},{"offset":0.2680,"color":"transparent"},
{"offset":0.2875,"color":"transparent"},{"offset":0.2875,"color":"#000"},{"offset":0.2958,"color":"#000"},{"offset":0.2958,"color":"transparent"},
{"offset":0.3153,"color":"transparent"},{"offset":0.3153,"color":"#000"},{"offset":0.3236,"color":"#000"},{"offset":0.3236,"color":"transparent"},
{"offset":0.3430,"color":"transparent"},{"offset":0.3430,"color":"#000"},{"offset":0.3513,"color":"#000"},{"offset":0.3513,"color":"transparent"},
{"offset":0.3708,"color":"transparent"},{"offset":0.3708,"color":"#000"},{"offset":0.3791,"color":"#000"},{"offset":0.3791,"color":"transparent"},
{"offset":0.3986,"color":"transparent"},{"offset":0.3986,"color":"#000"},{"offset":0.4069,"color":"#000"},{"offset":0.4069,"color":"transparent"},
{"offset":0.4264,"color":"transparent"},{"offset":0.4264,"color":"#000"},{"offset":0.4347,"color":"#000"},{"offset":0.4347,"color":"transparent"},
{"offset":0.4541,"color":"transparent"},{"offset":0.4541,"color":"#000"},{"offset":0.4624,"color":"#000"},{"offset":0.4624,"color":"transparent"},
{"offset":0.4819,"color":"transparent"},{"offset":0.4819,"color":"#000"},{"offset":0.4902,"color":"#000"},{"offset":0.4902,"color":"transparent"},
{"offset":0.5097,"color":"transparent"},{"offset":0.5097,"color":"#000"},{"offset":0.5180,"color":"#000"},{"offset":0.5180,"color":"transparent"},
{"offset":0.5375,"color":"transparent"},{"offset":0.5375,"color":"#000"},{"offset":0.5458,"color":"#000"},{"offset":0.5458,"color":"transparent"},
{"offset":0.5653,"color":"transparent"},{"offset":0.5653,"color":"#000"},{"offset":0.5736,"color":"#000"},{"offset":0.5736,"color":"transparent"},
{"offset":0.5930,"color":"transparent"},{"offset":0.5930,"color":"#000"},{"offset":0.6013,"color":"#000"},{"offset":0.6013,"color":"transparent"},
{"offset":0.6208,"color":"transparent"},{"offset":0.6208,"color":"#000"},{"offset":0.6291,"color":"#000"},{"offset":0.6291,"color":"transparent"},
{"offset":0.6486,"color":"transparent"},{"offset":0.6486,"color":"#000"},{"offset":0.6569,"color":"#000"},{"offset":0.6569,"color":"transparent"},
{"offset":0.6764,"color":"transparent"},{"offset":0.6764,"color":"#000"},{"offset":0.6847,"color":"#000"},{"offset":0.6847,"color":"transparent"},
{"offset":0.7041,"color":"transparent"},{"offset":0.7041,"color":"#000"},{"offset":0.7124,"color":"#000"},{"offset":0.7124,"color":"transparent"},
{"offset":0.7319,"color":"transparent"},{"offset":0.7319,"color":"#000"},{"offset":0.7402,"color":"#000"},{"offset":0.7402,"color":"transparent"},
{"offset":0.7597,"color":"transparent"},{"offset":0.7597,"color":"#000"},{"offset":0.7680,"color":"#000"},{"offset":0.7680,"color":"transparent"},
{"offset":0.7875,"color":"transparent"},{"offset":0.7875,"color":"#000"},{"offset":0.7958,"color":"#000"},{"offset":0.7958,"color":"transparent"},
{"offset":0.8153,"color":"transparent"},{"offset":0.8153,"color":"#000"},{"offset":0.8236,"color":"#000"},{"offset":0.8236,"color":"transparent"},
{"offset":0.8430,"color":"transparent"},{"offset":0.8430,"color":"#000"},{"offset":0.8513,"color":"#000"},{"offset":0.8513,"color":"transparent"},
{"offset":0.8708,"color":"transparent"},{"offset":0.8708,"color":"#000"},{"offset":0.8791,"color":"#000"},{"offset":0.8791,"color":"transparent"},
{"offset":0.8986,"color":"transparent"},{"offset":0.8986,"color":"#000"},{"offset":0.9069,"color":"#000"},{"offset":0.9069,"color":"transparent"},
{"offset":0.9264,"color":"transparent"},{"offset":0.9264,"color":"#000"},{"offset":0.9347,"color":"#000"},{"offset":0.9347,"color":"transparent"},
{"offset":0.9541,"color":"transparent"},{"offset":0.9541,"color":"#000"},{"offset":0.9624,"color":"#000"},{"offset":0.9624,"color":"transparent"},
{"offset":0.9819,"color":"transparent"},{"offset":0.9819,"color":"#000"},{"offset":0.9902,"color":"#000"},{"offset":0.9902,"color":"transparent"}
]}}},
{"mark": {"type": "area", "opacity": 1, "fill": {"gradient": "linear", "x1": 0, "y1": 0, "x2": 1, "y2": 0, "stops": [
{"offset":0.0108,"color":"transparent"},{"offset":0.0108,"color":"#000"},{"offset":0.0178,"color":"#000"},{"offset":0.0178,"color":"transparent"},
{"offset":0.0394,"color":"transparent"},{"offset":0.0394,"color":"#000"},{"offset":0.0464,"color":"#000"},{"offset":0.0464,"color":"transparent"},
{"offset":0.0679,"color":"transparent"},{"offset":0.0679,"color":"#000"},{"offset":0.0749,"color":"#000"},{"offset":0.0749,"color":"transparent"},
{"offset":0.0965,"color":"transparent"},{"offset":0.0965,"color":"#000"},{"offset":0.1035,"color":"#000"},{"offset":0.1035,"color":"transparent"},
{"offset":0.1251,"color":"transparent"},{"offset":0.1251,"color":"#000"},{"offset":0.1321,"color":"#000"},{"offset":0.1321,"color":"transparent"},
{"offset":0.1537,"color":"transparent"},{"offset":0.1537,"color":"#000"},{"offset":0.1607,"color":"#000"},{"offset":0.1607,"color":"transparent"},
{"offset":0.1822,"color":"transparent"},{"offset":0.1822,"color":"#000"},{"offset":0.1892,"color":"#000"},{"offset":0.1892,"color":"transparent"},
{"offset":0.2108,"color":"transparent"},{"offset":0.2108,"color":"#000"},{"offset":0.2178,"color":"#000"},{"offset":0.2178,"color":"transparent"},
{"offset":0.2394,"color":"transparent"},{"offset":0.2394,"color":"#000"},{"offset":0.2464,"color":"#000"},{"offset":0.2464,"color":"transparent"},
{"offset":0.2679,"color":"transparent"},{"offset":0.2679,"color":"#000"},{"offset":0.2749,"color":"#000"},{"offset":0.2749,"color":"transparent"},
{"offset":0.2965,"color":"transparent"},{"offset":0.2965,"color":"#000"},{"offset":0.3035,"color":"#000"},{"offset":0.3035,"color":"transparent"},
{"offset":0.3251,"color":"transparent"},{"offset":0.3251,"color":"#000"},{"offset":0.3321,"color":"#000"},{"offset":0.3321,"color":"transparent"},
{"offset":0.3537,"color":"transparent"},{"offset":0.3537,"color":"#000"},{"offset":0.3607,"color":"#000"},{"offset":0.3607,"color":"transparent"},
{"offset":0.3822,"color":"transparent"},{"offset":0.3822,"color":"#000"},{"offset":0.3892,"color":"#000"},{"offset":0.3892,"color":"transparent"},
{"offset":0.4108,"color":"transparent"},{"offset":0.4108,"color":"#000"},{"offset":0.4178,"color":"#000"},{"offset":0.4178,"color":"transparent"},
{"offset":0.4394,"color":"transparent"},{"offset":0.4394,"color":"#000"},{"offset":0.4464,"color":"#000"},{"offset":0.4464,"color":"transparent"},
{"offset":0.4679,"color":"transparent"},{"offset":0.4679,"color":"#000"},{"offset":0.4749,"color":"#000"},{"offset":0.4749,"color":"transparent"},
{"offset":0.4965,"color":"transparent"},{"offset":0.4965,"color":"#000"},{"offset":0.5035,"color":"#000"},{"offset":0.5035,"color":"transparent"},
{"offset":0.5251,"color":"transparent"},{"offset":0.5251,"color":"#000"},{"offset":0.5321,"color":"#000"},{"offset":0.5321,"color":"transparent"},
{"offset":0.5537,"color":"transparent"},{"offset":0.5537,"color":"#000"},{"offset":0.5607,"color":"#000"},{"offset":0.5607,"color":"transparent"},
{"offset":0.5822,"color":"transparent"},{"offset":0.5822,"color":"#000"},{"offset":0.5892,"color":"#000"},{"offset":0.5892,"color":"transparent"},
{"offset":0.6108,"color":"transparent"},{"offset":0.6108,"color":"#000"},{"offset":0.6178,"color":"#000"},{"offset":0.6178,"color":"transparent"},
{"offset":0.6394,"color":"transparent"},{"offset":0.6394,"color":"#000"},{"offset":0.6464,"color":"#000"},{"offset":0.6464,"color":"transparent"},
{"offset":0.6679,"color":"transparent"},{"offset":0.6679,"color":"#000"},{"offset":0.6749,"color":"#000"},{"offset":0.6749,"color":"transparent"},
{"offset":0.6965,"color":"transparent"},{"offset":0.6965,"color":"#000"},{"offset":0.7035,"color":"#000"},{"offset":0.7035,"color":"transparent"},
{"offset":0.7251,"color":"transparent"},{"offset":0.7251,"color":"#000"},{"offset":0.7321,"color":"#000"},{"offset":0.7321,"color":"transparent"},
{"offset":0.7537,"color":"transparent"},{"offset":0.7537,"color":"#000"},{"offset":0.7607,"color":"#000"},{"offset":0.7607,"color":"transparent"},
{"offset":0.7822,"color":"transparent"},{"offset":0.7822,"color":"#000"},{"offset":0.7892,"color":"#000"},{"offset":0.7892,"color":"transparent"},
{"offset":0.8108,"color":"transparent"},{"offset":0.8108,"color":"#000"},{"offset":0.8178,"color":"#000"},{"offset":0.8178,"color":"transparent"},
{"offset":0.8394,"color":"transparent"},{"offset":0.8394,"color":"#000"},{"offset":0.8464,"color":"#000"},{"offset":0.8464,"color":"transparent"},
{"offset":0.8679,"color":"transparent"},{"offset":0.8679,"color":"#000"},{"offset":0.8749,"color":"#000"},{"offset":0.8749,"color":"transparent"},
{"offset":0.8965,"color":"transparent"},{"offset":0.8965,"color":"#000"},{"offset":0.9035,"color":"#000"},{"offset":0.9035,"color":"transparent"},
{"offset":0.9251,"color":"transparent"},{"offset":0.9251,"color":"#000"},{"offset":0.9321,"color":"#000"},{"offset":0.9321,"color":"transparent"},
{"offset":0.9537,"color":"transparent"},{"offset":0.9537,"color":"#000"},{"offset":0.9607,"color":"#000"},{"offset":0.9607,"color":"transparent"},
{"offset":0.9822,"color":"transparent"},{"offset":0.9822,"color":"#000"},{"offset":0.9892,"color":"#000"},{"offset":0.9892,"color":"transparent"}
]}}}
]
}
]
}
